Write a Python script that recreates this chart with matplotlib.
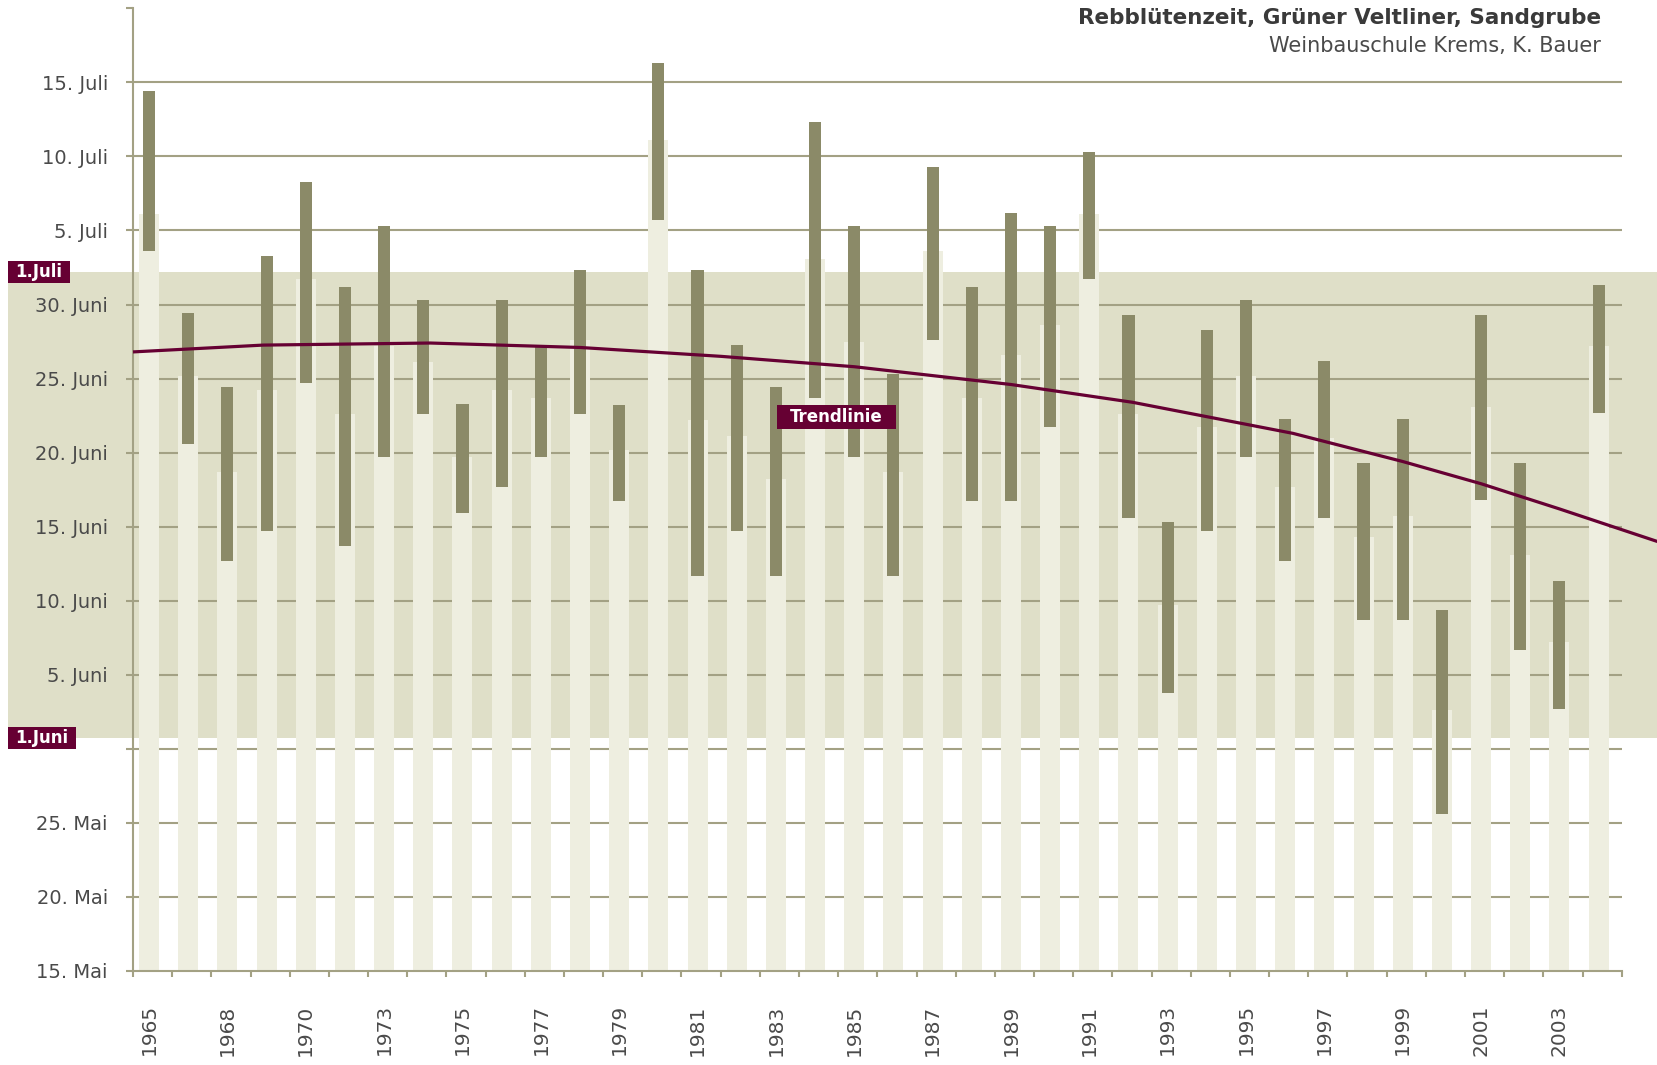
import numpy as np
import matplotlib
matplotlib.use("Agg")
import matplotlib.pyplot as plt
from matplotlib.patches import Rectangle
from matplotlib.transforms import blended_transform_factory

# y values: days counted from 15. Mai (tick every 5 units)
# one entry per bar, left to right
bluete_ende = [59.4, 44.4, 39.4, 48.3, 53.3, 46.2, 50.3, 45.3, 38.3, 45.3,
               42.2, 47.3, 38.2, 61.3, 47.3, 42.3, 39.4, 57.3, 50.3, 40.3,
               54.3, 46.2, 51.2, 50.3, 55.3, 44.3, 30.3, 43.3, 45.3, 37.3,
               41.2, 34.3, 37.3, 24.4, 44.3, 34.3, 26.3, 46.3]
bluete_beginn = [48.6, 35.6, 27.7, 29.7, 39.7, 28.7, 34.7, 37.6, 30.9, 32.7,
                 34.7, 37.6, 31.7, 50.7, 26.7, 29.7, 26.7, 38.7, 34.7, 26.7,
                 42.6, 31.7, 31.7, 36.7, 46.7, 30.6, 18.8, 29.7, 34.7, 27.7,
                 30.6, 23.7, 23.7, 10.6, 31.8, 21.7, 17.7, 37.7]
vollbluete = [51.1, 40.2, 33.7, 39.2, 46.7, 37.6, 42.2, 41.1, 34.7, 39.2,
              38.7, 42.6, 35.2, 56.1, 37.2, 36.1, 33.2, 48.1, 42.5, 33.7,
              48.6, 38.7, 41.6, 43.6, 51.1, 37.6, 24.7, 36.7, 40.2, 32.7,
              36.0, 29.3, 30.7, 17.6, 38.1, 28.1, 22.2, 42.2]

# labels under every second bar
jahre = ["1965", "1968", "1970", "1973", "1975", "1977", "1979", "1981",
         "1983", "1985", "1987", "1989", "1991", "1993", "1995", "1997",
         "1999", "2001", "2003"]

# trend line (bar index, value)
trend_x = [-0.41, 2.91, 7.18, 11.0, 14.6, 18.0, 22.0, 25.1, 29.2, 32.0,
           34.0, 36.0, 38.5]
trend_y = [41.8, 42.26, 42.4, 42.1, 41.5, 40.8, 39.6, 38.4, 36.3, 34.4,
           32.9, 31.2, 29.0]

y_ticks = list(range(0, 61, 5))
y_labels = ["15. Mai", "20. Mai", "25. Mai", "", "5. Juni", "10. Juni",
            "15. Juni", "20. Juni", "25. Juni", "30. Juni", "5. Juli",
            "10. Juli", "15. Juli"]

band = (15.76, 47.2)   # 1.Juni .. 1.Juli

# colours
c_light = "#eeeee0"
c_dark = "#8b8a68"
c_band = "#dfdfc8"
c_grid = "#a3a184"
c_red = "#660033"
c_text = "#4a4a4a"

W, H = 1657, 1065
fig = plt.figure(figsize=(W / 100, H / 100), dpi=100)
ax = fig.add_axes([133 / W, 1 - 971 / H, (1621.7 - 133) / W, (971 - 8.3) / H])

x = np.arange(len(vollbluete))
beginn = np.array(bluete_beginn)
ende = np.array(bluete_ende)

# shaded June band, reaching out to the left edge of the figure
tr = blended_transform_factory(fig.transFigure, ax.transData)
ax.add_patch(Rectangle((8 / W, band[0]), 1 - 8 / W, band[1] - band[0],
                       transform=tr, color=c_band, lw=0, zorder=0.5,
                       clip_on=False))

for v in y_ticks[1:]:
    ax.axhline(v, color=c_grid, lw=1.5, zorder=1)

ax.bar(x, vollbluete, width=0.51, color=c_light, zorder=2)
ax.bar(x, ende - beginn, bottom=beginn, width=0.31, color=c_dark, zorder=3)

ax.plot(trend_x, trend_y, color=c_red, lw=2.3, zorder=4, clip_on=False,
        solid_capstyle="butt", solid_joinstyle="round")

ax.set_xlim(-0.41, 37.59)
ax.set_ylim(0, 65)

# axes styling
for s in ["top", "right"]:
    ax.spines[s].set_visible(False)
for s in ["left", "bottom"]:
    ax.spines[s].set_color(c_grid)
    ax.spines[s].set_linewidth(1.5)

ax.set_yticks(y_ticks + [65])
ax.set_yticklabels(y_labels + [""])
ax.tick_params(axis="y", length=5, width=1.5, color=c_grid, pad=13,
               labelsize=14, labelcolor=c_text)

ax.set_xticks(x[::2])
ax.set_xticklabels(jahre, rotation=90)
ax.set_xticks(np.arange(39) - 0.41, minor=True)
ax.tick_params(axis="x", which="major", length=0, pad=24, labelsize=14.5,
               labelcolor=c_text)
ax.tick_params(axis="x", which="minor", length=4.5, width=1.5, color=c_grid)

# band edge labels
for val, txt, wpx in [(band[1], "1.Juli", 62), (band[0], "1.Juni", 68)]:
    h = 22 / 14.81
    ax.add_patch(Rectangle((8 / W, val - h / 2), wpx / W, h, transform=tr,
                           color=c_red, lw=0, zorder=6, clip_on=False))
    ax.text((8 + wpx / 2) / W, val, txt, transform=tr, ha="center",
            va="center", color="white", fontsize=12, fontweight="bold",
            zorder=7, clip_on=False)

# trend label
ax.add_patch(Rectangle((17.55 - 1.525, 37.4 - 0.81), 3.05, 1.62,
                       color=c_red, lw=0, zorder=6))
ax.text(17.55, 37.4, "Trendlinie", ha="center", va="center", color="white",
        fontsize=12, fontweight="bold", zorder=7)

fig.text(1601 / W, 1 - 18 / H, "Rebblütenzeit, Grüner Veltliner, Sandgrube",
         ha="right", va="center", fontsize=15.5, fontweight="bold",
         color="#3a3a3a")
fig.text(1601 / W, 1 - 46 / H, "Weinbauschule Krems, K. Bauer",
         ha="right", va="center", fontsize=15, color=c_text)

fig.savefig("out.png", dpi=100)
